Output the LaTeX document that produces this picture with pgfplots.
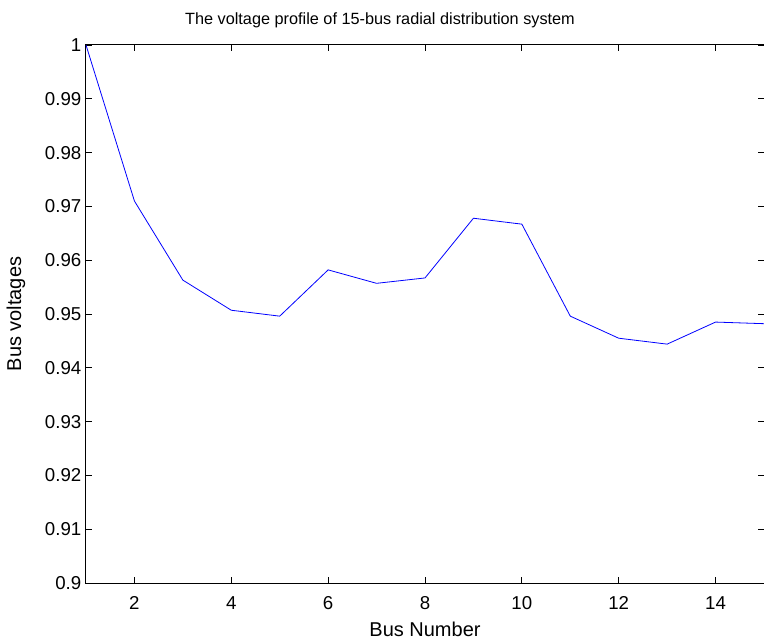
\documentclass[border=0pt]{standalone}
\usepackage{pgfplots}
\pgfplotsset{compat=1.18}
\usepackage{fontspec}
\setmainfont{Liberation Sans}
\begin{document}
\begin{tikzpicture}
\begin{axis}[
  at={(0,0)}, anchor=south west,
  scale only axis,
  width=508.5pt, height=403.5pt,
  xmin=1, xmax=15, ymin=0.9, ymax=1,
  xtick={2,4,6,8,10,12,14},
  ytick={0.9,0.91,0.92,0.93,0.94,0.95,0.96,0.97,0.98,0.99,1},
  yticklabels={0.9,0.91,0.92,0.93,0.94,0.95,0.96,0.97,0.98,0.99,1},
  tick align=inside,
  major tick length=4.5pt,
  tick style={black, line width=0.6pt},
  axis line style={black, line width=0.75pt},
  /pgf/number format/assume math mode=true,
  tick label style={font=\fontsize{14}{16}\selectfont},
  xticklabel style={anchor=center, yshift=-15pt},
  xlabel style={font=\fontsize{15}{17}\selectfont, at={(axis description cs:0.5,0)}, anchor=center, yshift=-35pt},
  ylabel style={font=\fontsize{15}{17}\selectfont, at={(axis description cs:0,0.5)}, anchor=center, yshift=52.5pt},
  title style={font=\fontsize{12.2}{14}\selectfont, at={(axis description cs:0.5,1)}, anchor=center, yshift=12.75pt, xshift=-33.75pt},
  title={The voltage profile of 15-bus radial distribution system},
  xlabel={Bus Number},
  ylabel={Bus voltages},
]
\addplot[color=blue, line width=0.6pt, mark=none] coordinates {
(1,1.0000) (2,0.9710) (3,0.9563) (4,0.9507) (5,0.9496) (6,0.9582) (7,0.9557)
(8,0.9567) (9,0.9678) (10,0.9667) (11,0.9496) (12,0.9455) (13,0.9444)
(14,0.9485) (15,0.9482)
};
\end{axis}
\pgfresetboundingbox
\useasboundingbox (-64.5pt,-42.75pt) rectangle (508.5pt,437.25pt);
\end{tikzpicture}
\end{document}
